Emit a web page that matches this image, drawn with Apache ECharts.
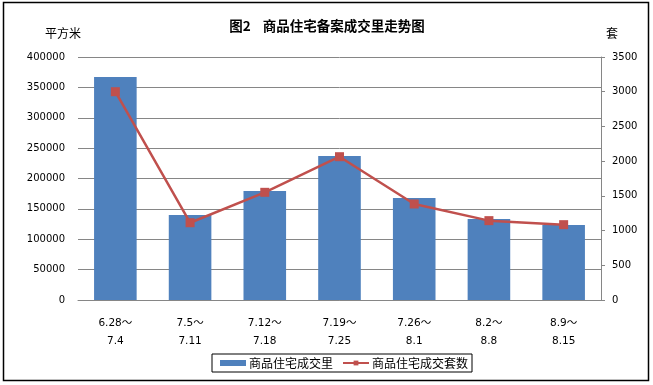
<!DOCTYPE html>
<html><head><meta charset="utf-8">
<script src="https://cdn.jsdelivr.net/npm/echarts@6/dist/echarts.min.js"></script>
<style>html,body{margin:0;padding:0;background:#fff}#c{width:653px;height:385px}</style>
</head><body><div id="c"></div>
<script>
const categories = ['6.28～\n7.4','7.5～\n7.11','7.12～\n7.18','7.19～\n7.25','7.26～\n8.1','8.2～\n8.8','8.9～\n8.15'];
const areaValues = [367000, 140000, 179500, 237000, 168000, 133500, 123500];
const unitValues = [3000, 1113, 1551, 2064, 1383, 1143, 1085];
const leftTicks = [0, 50000, 100000, 150000, 200000, 250000, 300000, 350000, 400000];
const rightTicks = [0, 500, 1000, 1500, 2000, 2500, 3000, 3500];
const titleText = '图2\u00a0\u00a0\u00a0\u00a0商品住宅备案成交里走势图';
const seriesNames = ['商品住宅成交里', '商品住宅成交套数'];

const font = '"DejaVu Sans", "Noto Sans CJK SC"';
const cjk = '"Noto Sans CJK SC", sans-serif';
const plain = v => String(v);
const chart = echarts.init(document.getElementById('c'), null, {renderer: 'canvas'});
chart.setOption({
  animation: false,
  backgroundColor: '#fff',
  title: {text: titleText, left: 322, textAlign: 'center', top: 14,
    textStyle: {fontSize: 13.5, fontWeight: 'bold', color: '#000', fontFamily: cjk}},
  grid: {left: 78, right: 52, top: 57, bottom: 85},
  legend: {
    data: [
      {name: seriesNames[0], icon: 'rect', itemStyle: {color: '#4F81BD'}},
      {name: seriesNames[1]}
    ],
    left: 212, top: 354,
    padding: [3, 4, 3, 8], itemGap: 9, itemWidth: 26, itemHeight: 6,
    borderColor: '#000', borderWidth: 1,
    textStyle: {fontSize: 12, color: '#000', fontFamily: cjk, padding: [0,0,0,-2]}
  },
  xAxis: {
    type: 'category', data: categories,
    axisLine: {show: true, lineStyle: {color: '#868686'}},
    axisTick: {show: false},
    axisLabel: {color: '#000', fontSize: 10.5, fontFamily: font, lineHeight: 18, margin: 14, interval: 0}
  },
  yAxis: [
    {type: 'value', min: leftTicks[0], max: leftTicks[leftTicks.length-1], interval: 50000,
      name: '平方米', nameLocation: 'end', nameGap: 18,
      nameTextStyle: {color: '#000', fontSize: 12, fontFamily: cjk, align: 'center', padding: [0, 0, 0, -30]},
      axisLine: {show: false}, axisTick: {show: false},
      axisLabel: {color: '#000', fontSize: 10, fontFamily: font, margin: 13, formatter: plain},
      splitLine: {lineStyle: {color: '#868686', width: 1}}},
    {type: 'value', min: rightTicks[0], max: rightTicks[rightTicks.length-1], interval: 500,
      name: '套', nameLocation: 'end', nameGap: 18,
      nameTextStyle: {color: '#000', fontSize: 12, fontFamily: cjk, align: 'center', padding: [0, 0, 0, 22]},
      axisLine: {show: true, lineStyle: {color: '#868686'}},
      axisTick: {show: true, length: 4, lineStyle: {color: '#868686'}},
      axisLabel: {color: '#000', fontSize: 10, fontFamily: font, margin: 11, formatter: plain},
      splitLine: {show: false}}
  ],
  series: [
    {name: seriesNames[0], type: 'bar', data: areaValues, barWidth: '57%',
      itemStyle: {color: '#4F81BD'}},
    {name: seriesNames[1], type: 'line', yAxisIndex: 1, data: unitValues,
      symbol: 'rect', symbolSize: 9,
      lineStyle: {color: '#C0504D', width: 2.5},
      itemStyle: {color: '#C0504D'}}
  ],
  graphic: [{type: 'rect', shape: {x: 3.5, y: 2.5, width: 645, height: 378},
    style: {fill: 'none', stroke: '#000', lineWidth: 1.5}, silent: true}]
});
</script></body></html>
